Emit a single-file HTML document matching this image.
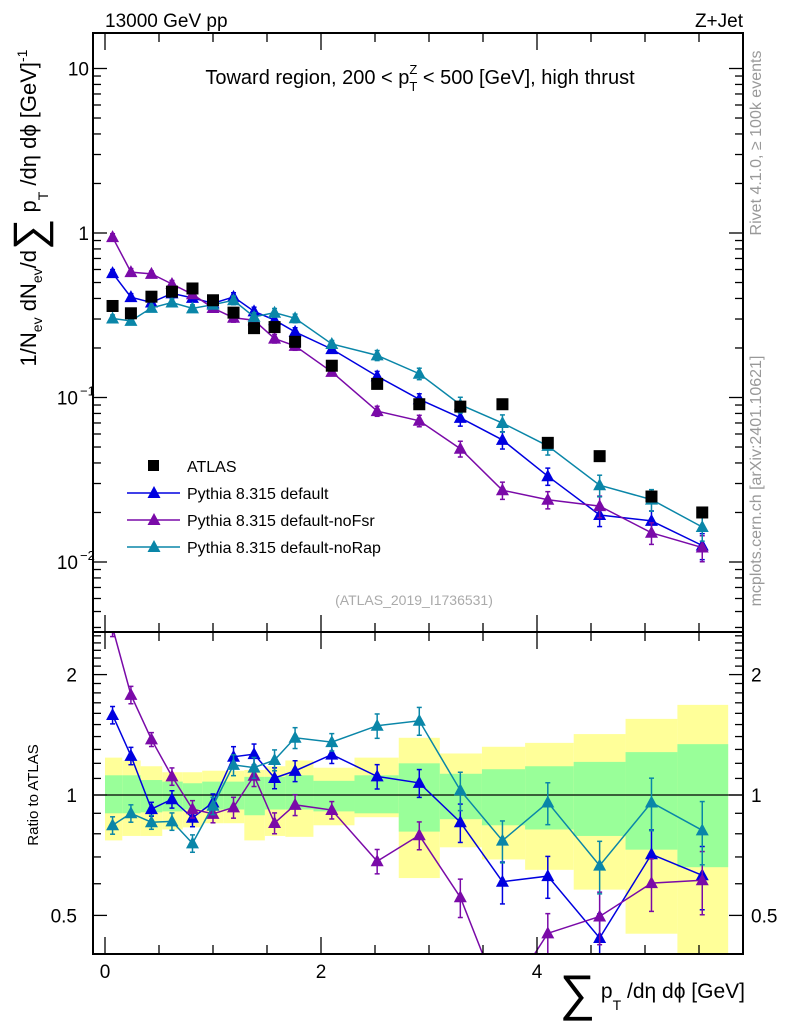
<!DOCTYPE html>
<html><head><meta charset="utf-8"><style>
html,body{margin:0;padding:0;background:#fff;}
svg{display:block;font-family:"Liberation Sans",sans-serif;}
</style></head><body>
<svg id="chart" width="786" height="1024" viewBox="0 0 786 1024" xmlns="http://www.w3.org/2000/svg">
<g id="bands"></g>
<g id="marks"></g>
<g id="axes"></g>
<text x="105" y="27" font-size="19">13000 GeV pp</text>
<text x="743" y="27" font-size="19" text-anchor="end">Z+Jet</text>
<text x="420" y="84" font-size="20" text-anchor="middle">Toward region, 200 &lt; p<tspan font-size="13" dy="7">T</tspan><tspan font-size="13" dx="-8" dy="-17">Z</tspan><tspan font-size="20" dy="10"> &lt; 500 [GeV], high thrust</tspan></text>
<text transform="translate(761,143) rotate(-90)" font-size="16" fill="#999" text-anchor="middle">Rivet 4.1.0, ≥ 100k events</text>
<text transform="translate(761,481) rotate(-90)" font-size="16" fill="#999" text-anchor="middle">mcplots.cern.ch [arXiv:2401.10621]</text>
<text x="414" y="605" font-size="14" fill="#aaa" text-anchor="middle">(ATLAS_2019_I1736531)</text>
<text transform="translate(36,208) rotate(-90)" font-size="22" text-anchor="middle">1/N<tspan font-size="14" dy="6">ev</tspan><tspan dy="-6"> dN</tspan><tspan font-size="14" dy="6">ev</tspan><tspan dy="-6">/d</tspan><tspan font-size="44" dy="8">∑</tspan><tspan dy="-8"> p</tspan><tspan font-size="14" dy="12">T</tspan><tspan dy="-12"> /dη dϕ  [GeV]</tspan><tspan font-size="14" dy="-9">-1</tspan></text>
<text transform="translate(38,795) rotate(-90)" font-size="15" text-anchor="middle">Ratio to ATLAS</text>
<text x="745" y="998" font-size="21" text-anchor="end"><tspan font-size="50" dy="12">∑</tspan><tspan dy="-12"> p</tspan><tspan font-size="14" dy="12">T</tspan><tspan dy="-12"> /dη dϕ [GeV]</tspan></text>
<g id="legend"></g>
</svg>
<script>
const xVals=[0.07,0.24,0.43,0.62,0.81,1.0,1.19,1.38,1.57,1.76,2.1,2.52,2.91,3.29,3.68,4.1,4.58,5.06,5.53];
const binEdges=[0,0.16,0.33,0.53,0.72,0.9,1.1,1.29,1.48,1.67,1.93,2.31,2.72,3.1,3.49,3.89,4.34,4.82,5.3,5.77];
const atlasVals=[0.36,0.325,0.41,0.44,0.46,0.39,0.328,0.264,0.268,0.218,0.156,0.121,0.091,0.088,0.091,0.053,0.044,0.025,0.020];
const ratioDefault=[1.585,1.253,0.922,0.976,0.877,0.958,1.246,1.265,1.103,1.149,1.262,1.113,1.072,0.855,0.607,0.627,0.439,0.711,0.63];
const ratioNoFsr=[2.62,1.78,1.377,1.113,0.922,0.897,0.931,1.117,0.851,0.945,0.917,0.683,0.793,0.555,0.30,0.451,0.497,0.602,0.612];
const ratioNoRap=[0.84,0.90,0.855,0.859,0.757,0.94,1.189,1.171,1.223,1.39,1.356,1.49,1.533,1.027,0.769,0.958,0.666,0.958,0.816];
const relErr=[0.05,0.05,0.04,0.05,0.05,0.05,0.06,0.06,0.06,0.06,0.05,0.07,0.08,0.11,0.12,0.12,0.15,0.15,0.18];
const yellowHi=[1.24,1.22,1.18,1.14,1.14,1.15,1.15,1.155,1.18,1.22,1.17,1.24,1.39,1.27,1.32,1.35,1.42,1.55,1.68];
const yellowLo=[0.77,0.79,0.79,0.82,0.83,0.85,0.85,0.77,0.79,0.786,0.84,0.88,0.62,0.74,0.69,0.65,0.58,0.45,0.33];
const greenHi=[1.12,1.12,1.09,1.08,1.07,1.08,1.08,1.11,1.11,1.12,1.085,1.12,1.2,1.13,1.16,1.18,1.21,1.28,1.34];
const greenLo=[0.90,0.90,0.905,0.91,0.92,0.92,0.92,0.89,0.92,0.92,0.91,0.90,0.81,0.87,0.84,0.82,0.79,0.73,0.66];
const seriesNames=["Pythia 8.315 default","Pythia 8.315 default-noFsr","Pythia 8.315 default-noRap"];
const seriesColors=["#0000e0","#7a0aa8","#0a86a8"];

const NS="http://www.w3.org/2000/svg";
const L=93,R=743,T=33,MB=632,RB=954;
const X=v=>105+108*v;
const YM=v=>233-164.5*Math.log10(v);
const YR=v=>795-400*Math.log10(v);
function mk(tag,attrs,parent){const e=document.createElementNS(NS,tag);for(const k in attrs)e.setAttribute(k,attrs[k]);parent.appendChild(e);return e;}
const bands=document.getElementById('bands'),marks=document.getElementById('marks'),axes=document.getElementById('axes'),legend=document.getElementById('legend');
const clipM=mk('clipPath',{id:'cm'},marks);mk('rect',{x:L,y:T,width:R-L,height:MB-T},clipM);
const clipR=mk('clipPath',{id:'cr'},marks);mk('rect',{x:L,y:MB,width:R-L,height:RB-MB},clipR);
for(let i=0;i<xVals.length;i++){
 const x0=X(binEdges[i]),x1=X(binEdges[i+1]);
 const y=mk('rect',{x:x0,y:YR(yellowHi[i]),width:x1-x0,height:YR(yellowLo[i])-YR(yellowHi[i]),fill:'#ffff99','clip-path':'url(#cr)'},bands);
 
 
}
for(let i=0;i<xVals.length;i++){
 const x0=X(binEdges[i]),x1=X(binEdges[i+1]);
 const g=mk('rect',{x:x0,y:YR(greenHi[i]),width:x1-x0,height:YR(greenLo[i])-YR(greenHi[i]),fill:'#99ff99','clip-path':'url(#cr)'},bands);
 
 
}
mk('line',{x1:L,x2:R,y1:YR(1),y2:YR(1),stroke:'#000','stroke-width':1.3},bands);
function tri(cx,cy,col,parent,clip){
 const p=mk('polygon',{points:`${cx},${cy-7} ${cx-6.5},${cy+5} ${cx+6.5},${cy+5}`,fill:col,'clip-path':clip},parent);
 
 
}
const ratios=[ratioDefault,ratioNoFsr,ratioNoRap];
ratios.forEach((rat,s)=>{
 const col=seriesColors[s];
 const g=mk('g',{},marks);
 
 
 const mainPts=xVals.map((x,i)=>X(x)+','+YM(atlasVals[i]*rat[i])).join(' ');
 mk('polyline',{points:mainPts,fill:'none',stroke:col,'stroke-width':1.5,'clip-path':'url(#cm)'},g);
 const rPts=xVals.map((x,i)=>X(x)+','+YR(rat[i])).join(' ');
 mk('polyline',{points:rPts,fill:'none',stroke:col,'stroke-width':1.5,'clip-path':'url(#cr)'},g);
 xVals.forEach((x,i)=>{
  const v=atlasVals[i]*rat[i],e=relErr[i];
  const cx=X(x);
  [[YM,v,'url(#cm)'],[YR,rat[i],'url(#cr)']].forEach(([F,val,cl])=>{
   const y1=F(val*(1+e)),y2=F(val*(1-e));
   mk('line',{x1:cx,x2:cx,y1:y1,y2:y2,stroke:col,'stroke-width':1.5,'clip-path':cl},g);
   mk('line',{x1:cx-2.5,x2:cx+2.5,y1:y1,y2:y1,stroke:col,'stroke-width':1.5,'clip-path':cl},g);
   mk('line',{x1:cx-2.5,x2:cx+2.5,y1:y2,y2:y2,stroke:col,'stroke-width':1.5,'clip-path':cl},g);
   tri(cx,F(val),col,g,cl);
  });
 });
});
xVals.forEach((x,i)=>{
 const r=mk('rect',{x:X(x)-6,y:YM(atlasVals[i])-6,width:12,height:12,fill:'#000'},marks);
 
 
});
mk('rect',{x:L,y:T,width:R-L,height:MB-T,fill:'none',stroke:'#000','stroke-width':2},axes);
mk('rect',{x:L,y:MB,width:R-L,height:RB-MB,fill:'none',stroke:'#000','stroke-width':2},axes);
function tick(x1,y1,x2,y2){mk('line',{x1,y1,x2,y2,stroke:'#000','stroke-width':1.3},axes);}
function label(x,y,t,anchor,size){const e=mk('text',{x,y,'font-size':size||19,'text-anchor':anchor},axes);e.textContent=t;return e;}
for(let d=-3;d<=1;d++){
 for(let m=1;m<10;m++){
  const v=m*Math.pow(10,d);const y=YM(v);
  if(y<T||y>MB)continue;
  const len=m===1?14:8;
  tick(L,y,L+len,y);tick(R,y,R-len,y);
 }
}
label(89,YM(10)+7,'10','end');
label(89,YM(1)+7,'1','end');
[[-1,YM(0.1)],[-2,YM(0.01)]].forEach(([p,y])=>{const t=label(78,y+7,'10','end');const s=mk('tspan',{x:80,dy:-9,'font-size':13,'text-anchor':'start'},axes);s.textContent='−'+(-p);t.appendChild(s);});
const rt=[0.4,0.5,0.6,0.7,0.8,0.9,1,1.1,1.2,1.3,1.4,1.5,1.6,1.7,1.8,1.9,2,2.1,2.2,2.3,2.4,2.5];
rt.forEach(v=>{const y=YR(v);const maj=(v===0.5||v===1||v===2);const len=maj?14:8;tick(L,y,L+len,y);tick(R,y,R-len,y);});
[[2,'2'],[1,'1'],[0.5,'0.5']].forEach(([v,t])=>{label(77,YR(v)+7,t,'end');label(751,YR(v)+7,t,'start');});
for(let v=0;v<=5.9;v+=0.5){
 const x=X(v);const maj=Math.abs(v%2)<1e-6;const len=maj?17:9;
 tick(x,T,x,T+len);tick(x,MB,x,MB-len);tick(x,MB,x,MB+len);tick(x,RB,x,RB-len);
}
[0,2,4].forEach(v=>label(X(v),978,String(v),'middle'));
const lsq=mk('rect',{x:148,y:460,width:11,height:11,fill:'#000'},legend);


const lt=mk('text',{x:187,y:472,'font-size':16},legend);lt.textContent='ATLAS';


seriesNames.forEach((n,s)=>{
 const y=493+s*27;
 mk('line',{x1:127,x2:180,y1:y,y2:y,stroke:seriesColors[s],'stroke-width':1.5},legend);
 tri(154,y,seriesColors[s],legend,'');
 const t=mk('text',{x:187,y:y+6,'font-size':16},legend);t.textContent=n;
 
 
});
</script>
</body></html>
